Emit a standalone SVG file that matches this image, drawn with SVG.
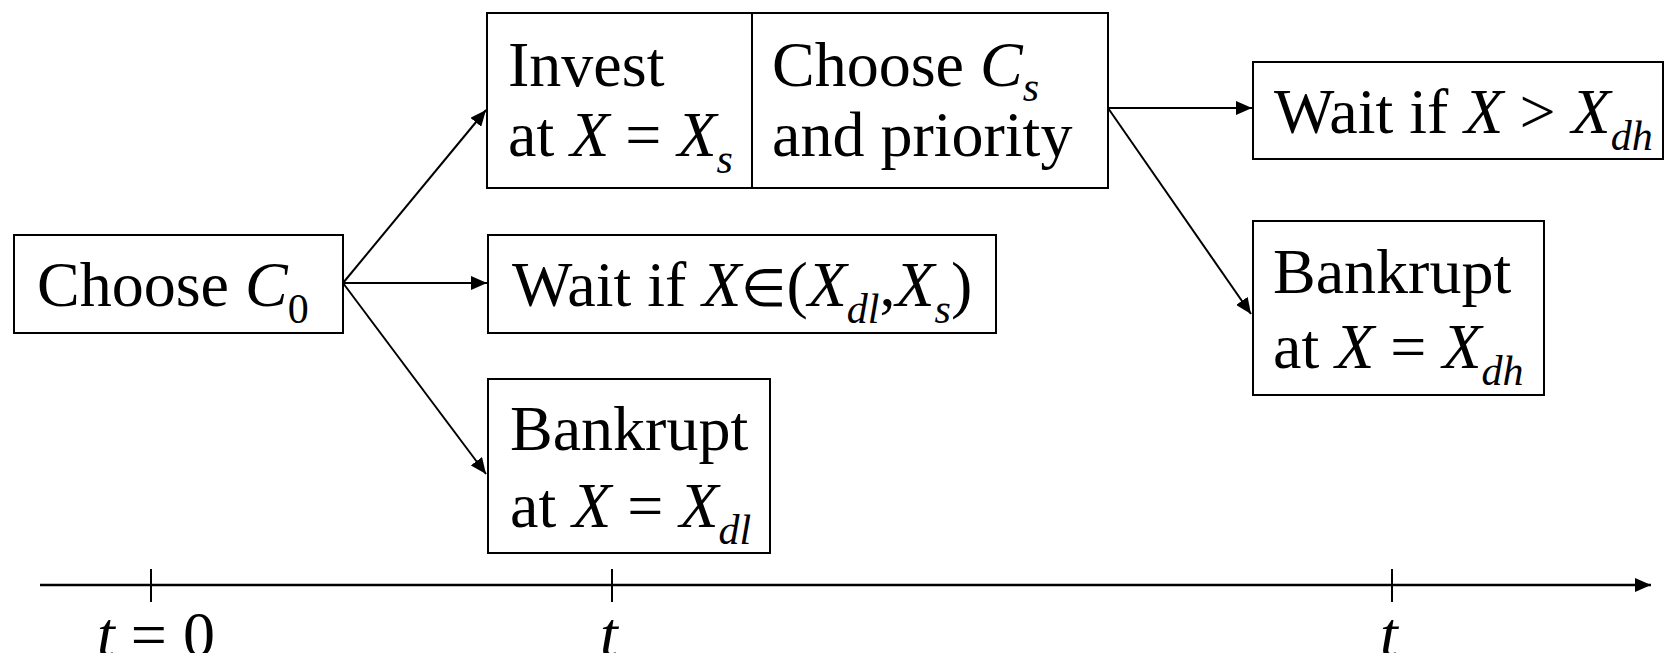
<svg xmlns="http://www.w3.org/2000/svg" width="1665" height="653" viewBox="0 0 1665 653">
<style>
.box{fill:#fff;stroke:#000;stroke-width:2}
.ln{stroke:#000;stroke-width:2;fill:none}
.ax{stroke:#000;stroke-width:2.5;fill:none}
.tx{font-family:'Liberation Serif','Times New Roman',serif;font-size:64px;fill:#000}
.i{font-style:italic}
.sub{font-size:42px}
.sym{font-size:52px}
</style>
<defs>
<marker id="ah" markerUnits="userSpaceOnUse" markerWidth="16" markerHeight="14" refX="16" refY="7" orient="auto">
<path d="M0,0 L16,7 L0,14 z" fill="#000"/>
</marker>
</defs>
<g id="connectors">
<line class="ln" x1="343" y1="283" x2="486" y2="110" marker-end="url(#ah)"/>
<line class="ln" x1="343" y1="283" x2="487" y2="283" marker-end="url(#ah)"/>
<line class="ln" x1="343" y1="283" x2="486" y2="474" marker-end="url(#ah)"/>
<line class="ln" x1="1108" y1="108" x2="1252" y2="108" marker-end="url(#ah)"/>
<line class="ln" x1="1108" y1="108" x2="1251" y2="314" marker-end="url(#ah)"/>
</g>
<g id="timeline">
<line class="ax" x1="40" y1="585" x2="1651" y2="585" marker-end="url(#ah)"/>
<line class="ln" x1="151" y1="569" x2="151" y2="602"/>
<line class="ln" x1="612" y1="569" x2="612" y2="602"/>
<line class="ln" x1="1392" y1="569" x2="1392" y2="602"/>
<text class="tx" x="97" y="656"><tspan class="i">t</tspan> = 0</text>
<text class="tx i" x="600" y="656">t</text>
<text class="tx i" x="1380" y="656">t</text>
</g>
<g id="n-choose0">
<rect class="box" x="14" y="235" width="329" height="98"/>
<text class="tx" x="37" y="306">Choose <tspan class="i">C</tspan><tspan class="sub" dy="17">0</tspan></text>
</g>
<g id="n-invest">
<rect class="box" x="487" y="13" width="621" height="175"/>
<line class="ln" x1="752" y1="13" x2="752" y2="188"/>
<text class="tx" x="508" y="86">Invest</text>
<text class="tx" x="508" y="156">at <tspan class="i">X</tspan> = <tspan class="i">X</tspan><tspan class="sub i" dy="17">s</tspan></text>
<text class="tx" x="772" y="86">Choose <tspan class="i">C</tspan><tspan class="sub i" dy="15">s</tspan></text>
<text class="tx" x="772" y="156">and priority</text>
</g>
<g id="n-wait1">
<rect class="box" x="488" y="235" width="508" height="98"/>
<text class="tx" x="512" y="306">Wait if <tspan class="i">X</tspan><tspan class="sym">∈</tspan>(<tspan class="i">X</tspan><tspan class="sub i" dy="17">dl</tspan><tspan dy="-17">,</tspan><tspan class="i">X</tspan><tspan class="sub i" dy="17">s</tspan><tspan dy="-17">)</tspan></text>
</g>
<g id="n-bankdl">
<rect class="box" x="488" y="379" width="282" height="174"/>
<text class="tx" x="510" y="450">Bankrupt</text>
<text class="tx" x="510" y="527">at <tspan class="i">X</tspan> = <tspan class="i">X</tspan><tspan class="sub i" dy="17">dl</tspan></text>
</g>
<g id="n-waitdh">
<rect class="box" x="1253" y="62" width="410" height="97"/>
<text class="tx" x="1274" y="133">Wait if <tspan class="i">X</tspan> &gt; <tspan class="i">X</tspan><tspan class="sub i" dy="17">dh</tspan></text>
</g>
<g id="n-bankdh">
<rect class="box" x="1253" y="221" width="291" height="174"/>
<text class="tx" x="1273" y="293">Bankrupt</text>
<text class="tx" x="1273" y="368">at <tspan class="i">X</tspan> = <tspan class="i">X</tspan><tspan class="sub i" dy="17">dh</tspan></text>
</g>
</svg>
